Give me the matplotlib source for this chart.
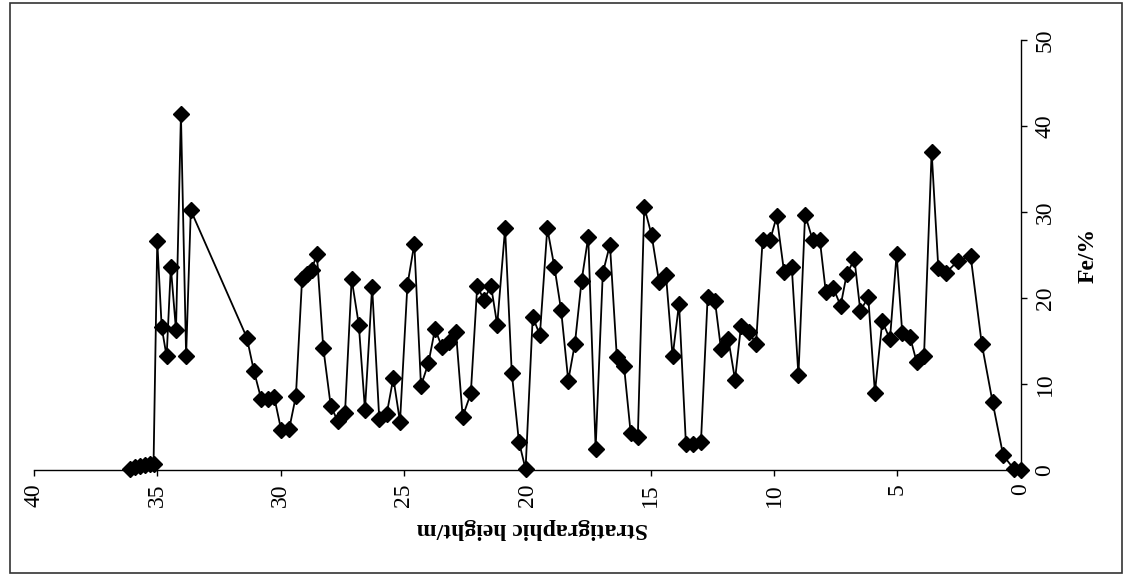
import matplotlib
matplotlib.use("Agg")
import matplotlib.pyplot as plt
from matplotlib.patches import Rectangle

# Stratigraphic height (m) and Fe content (%)
height = [36.1, 35.9, 35.7, 35.5, 35.3, 35.15,
          35.0, 34.82, 34.62, 34.45, 34.24, 34.04, 33.83, 33.64,
          31.37, 31.08, 30.79, 30.52, 30.26, 29.98, 29.65, 29.38, 29.13, 28.94,
          28.74, 28.53, 28.27, 27.97, 27.69, 27.39, 27.12, 26.83, 26.58, 26.29,
          26.0, 25.7, 25.43, 25.16, 24.86, 24.58, 24.31, 24.01, 23.74, 23.46,
          23.16, 22.89, 22.62, 22.29, 22.03, 21.76, 21.47, 21.22,
          20.9, 20.63, 20.34, 20.07, 19.78, 19.49, 19.19, 18.9, 18.63, 18.34,
          18.07, 17.8, 17.53, 17.23, 16.94, 16.65, 16.37, 16.08, 15.81, 15.52,
          15.26, 14.96, 14.66, 14.38, 14.11, 13.85,
          13.57, 13.27, 12.96, 12.69, 12.39, 12.15, 11.85, 11.58, 11.34, 11.01,
          10.73, 10.46, 10.16, 9.89, 9.59, 9.28, 9.01, 8.74, 8.43, 8.14,
          7.9, 7.6, 7.3, 7.05, 6.74, 6.5, 6.18, 5.91, 5.61, 5.3,
          5.03, 4.8, 4.49, 4.22, 3.92, 3.61, 3.34, 3.04, 2.55, 2.03,
          1.58, 1.14, 0.71, 0.27, 0.0]
fe = [0.1, 0.3, 0.5, 0.6, 0.7, 0.7,
      26.6, 16.6, 13.2, 23.6, 16.3, 41.4, 13.3, 30.2,
      15.4, 11.5, 8.3, 8.3, 8.5, 4.7, 4.8, 8.6, 22.2, 22.8,
      23.3, 25.1, 14.2, 7.5, 5.7, 6.6, 22.2, 16.9, 7.0, 21.3,
      5.9, 6.5, 10.7, 5.6, 21.5, 26.3, 9.8, 12.4, 16.4, 14.3,
      14.9, 16.0, 6.2, 8.9, 21.4, 19.8, 21.4, 16.9,
      28.1, 11.3, 3.3, 0.1, 17.8, 15.7, 28.1, 23.6, 18.6, 10.4,
      14.7, 22.0, 27.1, 2.5, 22.9, 26.2, 13.1, 12.1, 4.3, 3.8,
      30.6, 27.3, 21.9, 22.7, 13.2, 19.35,
      3.0, 3.0, 3.3, 20.1, 19.6, 14.1, 15.2, 10.5, 16.7, 16.1,
      14.6, 26.8, 26.7, 29.5, 23.0, 23.6, 11.0, 29.7, 26.7, 26.7,
      20.7, 21.2, 19.1, 22.8, 24.5, 18.5, 20.1, 9.0, 17.3, 15.2,
      25.1, 15.9, 15.5, 12.6, 13.2, 37.0, 23.5, 22.9, 24.3, 24.9,
      14.7, 7.9, 1.7, 0.1, 0.0]

x_ticks = [0, 5, 10, 15, 20, 25, 30, 35, 40]
y_ticks = [0, 10, 20, 30, 40, 50]
x_label = "Stratigraphic height/m"
y_label = "Fe/%"

plt.rcParams['font.family'] = ['Liberation Serif', 'DejaVu Serif']

W, H = 1128, 577
fig = plt.figure(figsize=(W / 100, H / 100), dpi=100)
left_px, right_px, bottom_px, top_px = 33.9, 1020.7, 470, 40
ax = fig.add_axes([left_px / W, 1 - bottom_px / H,
                   (right_px - left_px) / W, (bottom_px - top_px) / H])

ax.plot(height, fe, color='black', lw=1.3, marker='D', markersize=8.3,
        markerfacecolor='black', markeredgecolor='black', clip_on=False)

ax.set_xlim(40, 0)
ax.set_ylim(0, 50)
ax.spines['top'].set_visible(False)
ax.spines['left'].set_visible(False)
for s in ('right', 'bottom'):
    ax.spines[s].set_linewidth(1.0)
ax.yaxis.tick_right()
ax.set_xticks(x_ticks)
ax.set_yticks(y_ticks)
ax.set_xticklabels([str(v) for v in x_ticks], rotation=90)
ax.set_yticklabels([str(v) for v in y_ticks], rotation=90, va='center')
ax.tick_params(axis='x', direction='out', length=4, width=1, pad=5.5, labelsize=17)
ax.tick_params(axis='y', direction='out', length=4, width=1, pad=6, labelsize=17)

fig.text(532 / W, 1 - 528 / H, x_label, rotation=180, ha='center', va='center',
         fontsize=17, fontweight='bold')
fig.text(1088 / W, 1 - 255 / H, y_label, rotation=90, ha='center', va='center',
         fontsize=17, fontweight='bold')

fig.patches.append(Rectangle((10 / W, 1 - 573 / H), 1112 / W, 570 / H,
                             transform=fig.transFigure, fill=False,
                             edgecolor='#333333', lw=1.2))

fig.savefig("out.png", dpi=100)
